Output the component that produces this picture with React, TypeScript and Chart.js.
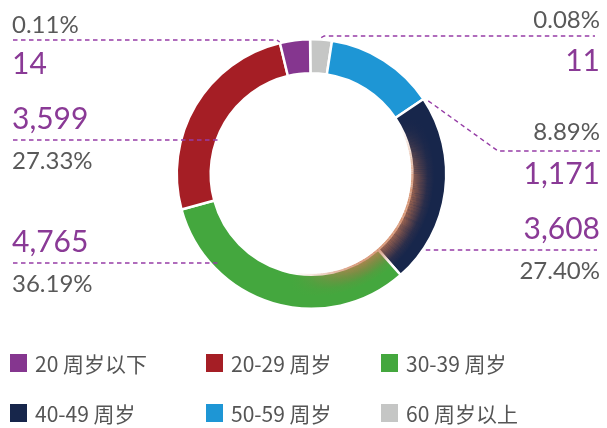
import React, { useEffect, useRef } from "react";
import { Chart, registerables } from "chart.js";

Chart.register(...registerables);

// ---- data (legend order) ----
const categories = ["20 周岁以下", "20-29 周岁", "30-39 周岁", "40-49 周岁", "50-59 周岁", "60 周岁以上"];
const counts = [14, 3599, 4765, 3608, 1171, 11];
const percents = ["0.11%", "27.33%", "36.19%", "27.40%", "8.89%", "0.08%"];
// visual share of each ring slice as drawn in the reference (%)
const sliceShares = [3.6, 25.5, 32.3, 22.9, 13.2, 2.6];
const colors = ["#85368F", "#A51E25", "#44A73E", "#17264B", "#1E96D5", "#C5C6C5"];

// ---- layout for the annotation labels (legend order) ----
type Lay = { side: "left" | "right"; first: "pct" | "count"; y1: number; line: number; y2: number; kind: string };
const labelLayout: Lay[] = [
  { side: "left", first: "pct", y1: 33, line: 40, y2: 74, kind: "start" },
  { side: "left", first: "count", y1: 129, line: 140, y2: 169, kind: "inner" },
  { side: "left", first: "count", y1: 252, line: 263, y2: 292, kind: "band" },
  { side: "right", first: "count", y1: 239, line: 250, y2: 279, kind: "outer" },
  { side: "right", first: "pct", y1: 140, line: 151, y2: 184, kind: "elbow" },
  { side: "right", first: "pct", y1: 28, line: 36, y2: 71, kind: "mid" },
];

const PURPLE_TXT = "#8A3A96";
const GRAY_TXT = "#595959";
const NUM_FONT = "Lato, 'Open Sans', sans-serif";

const n = categories.length;
// drawn clockwise from top in reverse legend order
const drawOrder = Array.from({ length: n }, (_, i) => n - 1 - i);

const glowPlugin = {
  id: "innerGlow",
  afterDatasetsDraw(chart: any) {
    const meta = chart.getDatasetMeta(0);
    const a0 = meta.data[0];
    if (!a0) return;
    const { x: cx, y: cy } = a0.getProps(["x", "y"], true);
    const ri = a0.innerRadius;
    const ctx = chart.ctx;
    ctx.save();
    ctx.globalCompositeOperation = "source-atop";
    const step = 0.5;
    const W = 22;
    for (let deg = 58; deg < 200; deg += step) {
      let env = 0;
      if (deg < 105) env = (deg - 58) / 47;
      else if (deg < 148) env = 1;
      else env = Math.max(0, 1 - (deg - 148) / 45);
      env = env * env * (3 - 2 * env);
      if (env <= 0) continue;
      const t0 = ((deg - 90) * Math.PI) / 180;
      const t1 = ((deg + step + 0.1 - 90) * Math.PI) / 180;
      const g = ctx.createRadialGradient(cx, cy, ri, cx, cy, ri + W);
      g.addColorStop(0, `rgba(205,125,85,${0.78 * env})`);
      g.addColorStop(0.35, `rgba(190,110,75,${0.42 * env})`);
      g.addColorStop(0.7, `rgba(180,100,70,${0.1 * env})`);
      g.addColorStop(1, "rgba(180,100,70,0)");
      ctx.beginPath();
      ctx.arc(cx, cy, ri + W, t0, t1);
      ctx.arc(cx, cy, ri - 1, t1, t0, true);
      ctx.closePath();
      ctx.fillStyle = g;
      ctx.fill();
    }
    ctx.restore();
  },
};

const labelPlugin = {
  id: "leaderLabels",
  afterDraw(chart: any) {
    const meta = chart.getDatasetMeta(0);
    const ctx = chart.ctx;
    ctx.save();
    labelLayout.forEach((lay, li) => {
      const di = drawOrder.indexOf(li);
      const arc: any = meta.data[di];
      if (!arc) return;
      const p = arc.getProps(["x", "y", "startAngle", "endAngle", "outerRadius", "innerRadius"], true);
      const cx = p.x, cy = p.y, ro = p.outerRadius, ri = p.innerRadius;
      const pt = (ang: number, r: number) => [cx + r * Math.cos(ang), cy + r * Math.sin(ang)];
      let pts: number[][] = [];
      const y = lay.line;
      if (lay.kind === "start") {
        const a = pt(p.startAngle, ro + 1);
        pts = [[13, y], [a[0] - 3, y], a];
      } else if (lay.kind === "inner") {
        const dx = Math.sqrt(Math.max(0, ri * ri - (y - cy) * (y - cy)));
        pts = [[13, y], [cx - dx + 2, y]];
      } else if (lay.kind === "band") {
        const r = ro - 6;
        const dx = Math.sqrt(Math.max(0, r * r - (y - cy) * (y - cy)));
        pts = [[13, y], [cx - dx, y]];
      } else if (lay.kind === "outer") {
        const dx = Math.sqrt(Math.max(0, ro * ro - (y - cy) * (y - cy)));
        pts = [[cx + dx + 3, y], [597, y]];
      } else if (lay.kind === "elbow") {
        const a = pt(p.endAngle + 0.03, ro + 3);
        pts = [a, [498, y], [600, y]];
      } else if (lay.kind === "mid") {
        const a = pt((p.startAngle + p.endAngle) / 2, ro + 2);
        pts = [a, [a[0] + 3, y], [595, y]];
      }
      ctx.beginPath();
      ctx.setLineDash([4.5, 3.5]);
      ctx.lineWidth = 1.4;
      ctx.strokeStyle = "#963DA6";
      pts.forEach((q, k) => (k === 0 ? ctx.moveTo(q[0], q[1]) : ctx.lineTo(q[0], q[1])));
      ctx.stroke();
      ctx.setLineDash([]);

      const countTxt = counts[li].toLocaleString("en-US");
      const pctTxt = percents[li];
      const tx = lay.side === "left" ? 12 : 600;
      ctx.textAlign = lay.side === "left" ? "left" : "right";
      ctx.textBaseline = "alphabetic";
      const drawCount = (yy: number) => {
        ctx.font = `400 30px ${NUM_FONT}`;
        ctx.fillStyle = PURPLE_TXT;
        ctx.fillText(countTxt, tx, yy);
      };
      const drawPct = (yy: number) => {
        ctx.font = `400 24px ${NUM_FONT}`;
        ctx.fillStyle = GRAY_TXT;
        ctx.fillText(pctTxt, tx, yy);
      };
      if (lay.first === "pct") {
        drawPct(lay.y1);
        drawCount(lay.y2);
      } else {
        drawCount(lay.y1);
        drawPct(lay.y2);
      }
    });
    ctx.restore();
  },
};

const legendCols = [10, 206, 381];
const legendRows = [354, 404];

export default function App() {
  const ref = useRef<HTMLCanvasElement | null>(null);
  useEffect(() => {
    if (!ref.current) return;
    const chart = new Chart(ref.current, {
      type: "doughnut",
      data: {
        labels: drawOrder.map((i) => categories[i]),
        datasets: [
          {
            data: drawOrder.map((i) => sliceShares[i]),
            backgroundColor: drawOrder.map((i) => colors[i]),
            borderColor: "#ffffff",
            borderWidth: 2.5,
          },
        ],
      },
      options: {
        responsive: false,
        animation: false,
        cutout: "74.8%",
        rotation: -0.6,
        layout: { padding: { left: 175, right: 159, top: 38, bottom: 118 } },
        plugins: { legend: { display: false }, tooltip: { enabled: false } },
      },
      plugins: [glowPlugin, labelPlugin],
    });
    return () => chart.destroy();
  }, []);

  return (
    <div style={{ position: "absolute", left: 0, top: 0, width: 607, height: 428, background: "#fff" }}>
      <canvas ref={ref} width={607} height={428} style={{ position: "absolute", left: 0, top: 0 }} />
      {categories.map((c, i) => {
        const col = i % 3;
        const row = Math.floor(i / 3);
        const x = legendCols[col];
        const y = legendRows[row];
        return (
          <div key={c} style={{ position: "absolute", left: x, top: y, height: 19 }}>
            <div style={{ position: "absolute", left: 0, top: 0, width: 17, height: 18, background: colors[i] }} />
            <div
              style={{
                position: "absolute",
                left: 25,
                top: -1,
                whiteSpace: "nowrap",
                fontFamily: "'Noto Sans CJK SC', sans-serif",
                fontSize: 21,
                lineHeight: "21px",
                color: "#555555",
              }}
            >
              {c}
            </div>
          </div>
        );
      })}
    </div>
  );
}
